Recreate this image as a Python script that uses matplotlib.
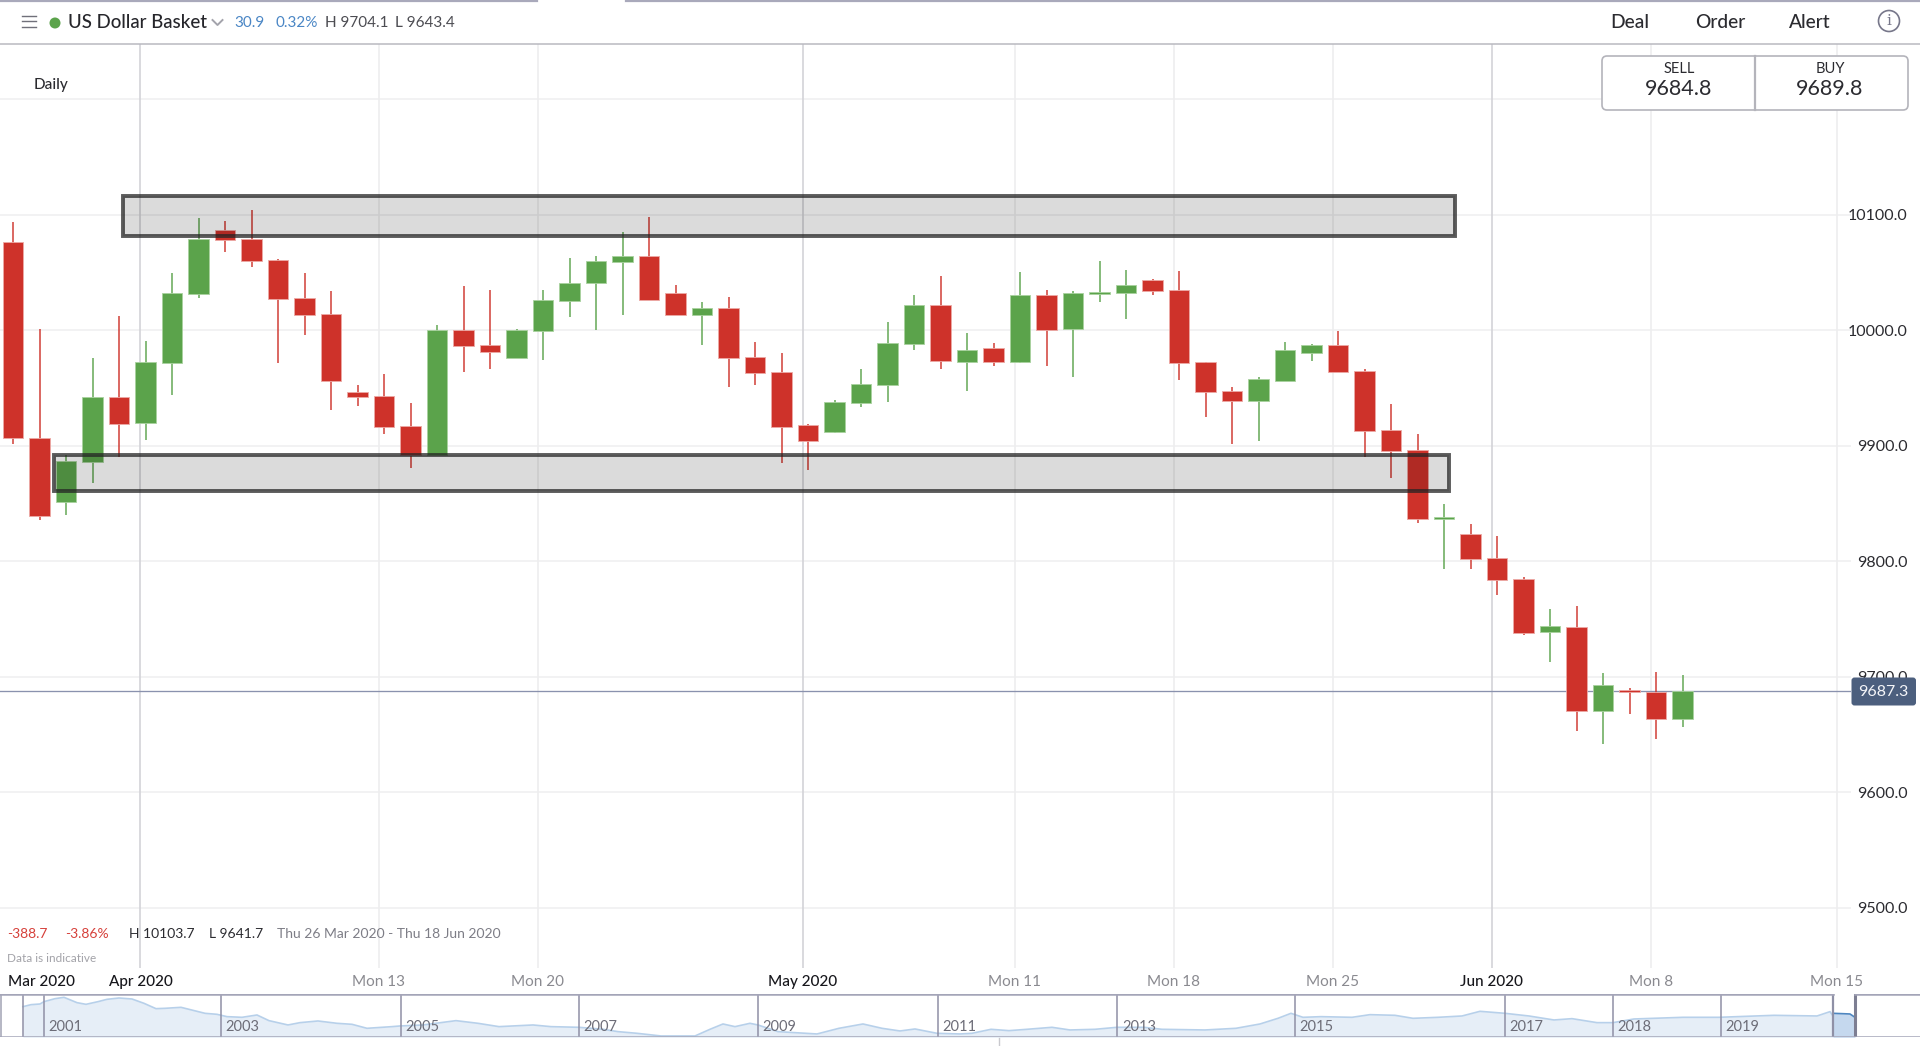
import matplotlib
matplotlib.use('Agg')
import matplotlib.pyplot as plt
from matplotlib.patches import Rectangle, FancyBboxPatch, Circle

plt.rcParams['font.family'] = ['Lato', 'DejaVu Sans']

# daily candles
opens = [10076.2, 9907.1, 9851.5, 9885.6, 9942.4, 9919.5, 9971.7, 10031.7, 10086.5, 10079,
         10060.7, 10028, 10013.9, 9946.2, 9942.7, 9916.9, 9891.6, 9999.8, 9986.9, 9976.3,
         9999.3, 10025.4, 10040.6, 10059.2, 10064.1, 10032.3, 10013.6, 10019.4, 9977.2, 9963.7,
         9917.5, 9911.7, 9937.3, 9952.2, 9988.4, 10022.2, 9972.9, 9984.3, 9972.6, 10030.3,
         10000.7, 10031.1, 10032.3, 10043.7, 10034.9, 9972.3, 9947.3, 9938.4, 9956.4, 9980.7,
         9986.8, 9964.4, 9913.8, 9896.5, 9836.4, 9823.3, 9802.5, 9784.3, 9738.3, 9743.2,
         9670.6, 9688.5, 9687.1, 9663.1]
closes = [9906.6, 9839.4, 9886.5, 9942.4, 9919.2, 9972.3, 10032.6, 10079.3, 10078.2, 10059.5,
          10027.1, 10013.3, 9956.2, 9942.2, 9916, 9891.6, 9999.8, 9986.3, 9981.2, 9999.8,
          10026.2, 10041.2, 10059.8, 10064.1, 10026.5, 10013.6, 10019.1, 9976.3, 9962.8, 9916.6,
          9904, 9937.8, 9953.6, 9989.2, 10022.2, 9973.1, 9982.9, 9972.3, 10030.3, 10000.4,
          10032.3, 10033.1, 10039.4, 10034, 9971.7, 9946.2, 9938.4, 9957.4, 9982.7, 9986.8,
          9963.5, 9912.6, 9895.7, 9836.4, 9838.7, 9802.2, 9783.7, 9737.7, 9743.5, 9670.3,
          9692.9, 9686.5, 9663.1, 9687.4]
highs = [10093.4, 10001, 9891.6, 9975.7, 10012.2, 9990.9, 10049.2, 10097.1, 10094.5, 10103.7,
         10061.5, 10049.8, 10034, 9952.8, 9962.5, 9937.3, 10004.1, 10038, 10035.1, 10000.7,
         10034.9, 10062.7, 10064.4, 10084.8, 10097.7, 10038.9, 10024.2, 10029.1, 9989.8, 9980.6,
         9918.9, 9939.6, 9966.3, 10007.3, 10030.3, 10047.2, 9997.5, 9988.6, 10050.1, 10034.9,
         10034.3, 10060.1, 10051.8, 10044, 10051.5, 9972.6, 9951, 9959.4, 9989.4, 9988.2,
         9998.9, 9966.4, 9935.9, 9910, 9849.1, 9832.3, 9821.6, 9786.6, 9758.2, 9761.4,
         9703.3, 9690.5, 9704.1, 9701.3]
lows = [9901.1, 9835.7, 9839.7, 9868.1, 9889.9, 9905.1, 9944.2, 10028.2, 10068.1, 10054.4,
        9971.7, 9996.1, 9931, 9934.7, 9910.3, 9880.7, 9891.6, 9964, 9966, 9976.3,
        9974, 10011.3, 10000.1, 10013.3, 10026, 10013, 9986.9, 9950.5, 9952.8, 9885.3,
        9879.3, 9911.1, 9933.8, 9938.1, 9983.2, 9966.3, 9947, 9969.1, 9971.4, 9968.8,
        9959.7, 10024.8, 10009.3, 10030.3, 9956.8, 9924.9, 9901.7, 9903.7, 9956.4, 9973.6,
        9963.5, 9889.9, 9872, 9833.5, 9793.2, 9793.5, 9770.4, 9736.3, 9712.8, 9653.2,
        9641.7, 9667.7, 9645.7, 9656.7]

last_price = 9687.3
zones = [(4.16, 54.4, 10081.8, 10115.9), (1.53, 54.17, 9861, 9891.7)]

y_ticks = [9500, 9600, 9700, 9800, 9900, 10000, 10100, 10200]
y_labels = ['9500.0', '9600.0', '9700.0', '9800.0', '9900.0', '10000.0', '10100.0', '']

date_ticks = [1.06, 4.81, 13.81, 19.81, 29.81, 37.81, 43.81, 49.81, 55.81, 61.81, 68.83]
date_labels = ['Mar 2020', 'Apr 2020', 'Mon 13', 'Mon 20', 'May 2020', 'Mon 11', 'Mon 18',
               'Mon 25', 'Jun 2020', 'Mon 8', 'Mon 15']

# navigator strip at the bottom
nav_x = [23, 31, 40, 44, 55, 64, 77, 86, 98, 107, 119, 132, 144, 156, 165, 181, 193, 205, 217, 227,
         242, 257, 269, 288, 300, 318, 337, 352, 367, 377, 392, 400, 423, 456, 478, 499, 533, 551,
         579, 603, 618, 637, 661, 695, 710, 723, 735, 750, 758, 778, 817, 839, 863, 882, 900, 915,
         937, 960, 972, 991, 1009, 1027, 1052, 1070, 1095, 1117, 1144, 1162, 1205, 1236, 1260, 1278,
         1291, 1303, 1321, 1352, 1370, 1395, 1413, 1438, 1462, 1480, 1505, 1529, 1554, 1572, 1597,
         1613, 1634, 1683, 1719, 1774, 1817, 1830, 1833]
nav_level = [92, 98, 100, 107, 116, 120, 104, 99, 107, 114, 118, 115, 102, 86, 87, 90, 81, 72, 69, 62,
             60, 67, 50, 37, 44, 49, 42, 39, 27, 29, 32, 34, 37, 50, 42, 32, 37, 32,
             30, 24, 17, 12, 4, 4, 24, 40, 32, 42, 37, 17, 10, 27, 40, 27, 19, 25,
             12, 10, 12, 24, 20, 24, 30, 22, 24, 30, 30, 24, 22, 27, 40, 57,
             72, 60, 62, 60, 68, 66, 57, 60, 64, 78, 72, 64, 52, 56, 44,
             44, 55, 60, 60, 66, 64, 77, 64]
sel_x = [1833, 1842, 1850, 1855]
sel_level = [72, 71, 70, 60]
nav_years = ['2001', '2003', '2005', '2007', '2009', '2011', '2013', '2015', '2017', '2018', '2019']
nav_year_x = [44, 221, 400.5, 578.7, 758, 937.5, 1117.4, 1295, 1505, 1612.8, 1720.6]

RED = '#ce322a'
GREEN = '#5ba34b'
MONTHS = ('Mar', 'Apr', 'May', 'Jun')

fig = plt.figure(figsize=(19.2, 10.46), dpi=100)
W, H = 1920.0, 1046.0

# main chart, spans px x 0-1851, y 44-968
ax = fig.add_axes([0, 1 - 968 / H, 1851 / W, (968 - 44) / H])
ax.set_xlim(-13 / 26.5, (1851 - 13) / 26.5)
ax.set_ylim(9447.8, 10247.8)
for s in ax.spines.values():
    s.set_visible(False)

for v in y_ticks:
    ax.axhline(v, color='#f1f1f2', lw=1.3, zorder=1)
for pos, name in zip(date_ticks, date_labels):
    if name == 'Mar 2020':
        continue
    col = '#d3d3d8' if name.startswith(MONTHS) else '#eeeeef'
    ax.axvline(pos, color=col, lw=1.2, zorder=1)

ax.axhline(last_price, color='#8a92ae', lw=0.95, zorder=2)

for i in range(len(opens)):
    col = GREEN if closes[i] >= opens[i] else RED
    edge = '#a9d29f' if col == GREEN else '#eca9a5'
    ax.vlines(i, lows[i], highs[i], color=col, lw=1.15, alpha=0.9, zorder=3)
    ax.bar(i, abs(closes[i] - opens[i]), bottom=min(opens[i], closes[i]), width=0.755,
           color=col, edgecolor=edge, linewidth=0.6, zorder=4)

for x0, x1, y0, y1 in zones:
    ax.add_patch(Rectangle((x0, y0), x1 - x0, y1 - y0, facecolor=(0, 0, 0, 0.14),
                           edgecolor=(0.14, 0.14, 0.14, 0.75), linewidth=2.8, zorder=5))

ax.yaxis.tick_right()
ax.set_yticks(y_ticks)
ax.set_yticklabels(y_labels, fontsize=11.5, color='#2b2b30', ha='right')
ax.set_xticks(date_ticks)
ax.set_xticklabels(date_labels, fontsize=11)
for lab in ax.get_xticklabels():
    if lab.get_text().startswith(MONTHS):
        lab.set_color('#17171c')
        lab.set_fontweight('medium')
    else:
        lab.set_color('#8a8a90')
ax.tick_params(axis='both', length=0)
ax.tick_params(axis='y', pad=40.5)
ax.tick_params(axis='x', pad=5)

# navigator
nav = fig.add_axes([0, 1 - 1037.3 / H, 1, (1037.3 - 994) / H])
nav.set_xlim(0, W)
nav.set_ylim(0, 130)
nav.set_xticks([])
nav.set_yticks([])
for s in nav.spines.values():
    s.set_visible(False)
nav.fill_between(nav_x, nav_level, 0, color='#e6eef7', lw=0, zorder=1)
nav.plot(nav_x, nav_level, color='#b7d0ea', lw=1.2, zorder=2)
nav.fill_between(sel_x, sel_level, 0, color='#c5d8ee', lw=0, zorder=1)
nav.plot(sel_x, sel_level, color='#4e86c0', lw=1.2, zorder=2)
for x, year in zip(nav_year_x, nav_years):
    nav.axvline(x, color='#8f90a6', lw=1.1, zorder=3)
    nav.text(x + 4.5, 30, year, fontsize=10.5, color='#6d6d78', va='center', ha='left', zorder=4)
nav.axvline(23, color='#8f90a6', lw=1.1, zorder=3)
nav.axvline(1833, color='#8f90a6', lw=1.6, zorder=3)
nav.axvline(1855, color='#7d7e92', lw=2.2, zorder=3)
nav.axvline(0.5, color='#a9aaba', lw=1.2, zorder=3)
nav.plot([0, 1833], [129, 129], color='#a4a5b8', lw=1.8, zorder=3)
nav.plot([1855, W], [129, 129], color='#a4a5b8', lw=1.8, zorder=3)
nav.plot([0, W], [0.5, 0.5], color='#a4a5b8', lw=1.8, zorder=3)

# page chrome, drawn in pixel coordinates on a see-through overlay
ui = fig.add_axes([0, 0, 1, 1], zorder=10)
ui.set_xlim(0, W)
ui.set_ylim(H, 0)
ui.axis('off')
ui.patch.set_alpha(0)

ui.plot([0, W], [43.5, 43.5], color='#b9b9c0', lw=1.1)
ui.plot([0, 537], [0.8, 0.8], color='#a9a9bb', lw=1.6)
ui.plot([626, W], [0.8, 0.8], color='#a9a9bb', lw=1.6)
for yy in (15.5, 21, 26.5):
    ui.plot([21.5, 36], [yy, yy], color='#70707a', lw=1.0)
ui.add_patch(Circle((55, 23), 5.5, color='#5ba34b', lw=0))
ui.plot([212.5, 217.5, 222.5], [20, 25, 20], color='#a4a4ac', lw=1.4)

ui.text(67.5, 23, 'US Dollar Basket', fontsize=13.4, color='#26262b', va='center', fontweight='medium')
ui.text(234, 23, '30.9', fontsize=11, color='#4a86c5', va='center')
ui.text(275, 23, '0.32%', fontsize=11, color='#4a86c5', va='center')
ui.text(325, 23, 'H 9704.1', fontsize=11, color='#4c4c52', va='center')
ui.text(395, 23, 'L 9643.4', fontsize=11, color='#4c4c52', va='center')
ui.text(33.5, 85.5, 'Daily', fontsize=11, color='#2b2b30', va='center', fontweight='medium')
ui.text(1630, 22.5, 'Deal', fontsize=13.8, color='#2b2b30', va='center', ha='center', fontweight='medium')
ui.text(1720, 22.5, 'Order', fontsize=13.8, color='#2b2b30', va='center', ha='center', fontweight='medium')
ui.text(1810, 22.5, 'Alert', fontsize=13.8, color='#2b2b30', va='center', ha='center', fontweight='medium')
ui.add_patch(Circle((1889, 21), 10.5, fill=False, edgecolor='#77778a', lw=1.2))
ui.text(1889, 21, 'i', fontsize=11, color='#77778a', va='center', ha='center', family='DejaVu Serif')

# sell / buy box
ui.add_patch(FancyBboxPatch((1604, 58), 302, 50, boxstyle='round,pad=2,rounding_size=5',
                            facecolor='white', edgecolor='#b4b4bb', lw=1.2))
ui.plot([1755, 1755], [56, 110], color='#b4b4bb', lw=1.6)
ui.text(1679, 69, 'SELL', fontsize=10.5, color='#2b2b30', va='center', ha='center')
ui.text(1830, 69, 'BUY', fontsize=10.5, color='#2b2b30', va='center', ha='center')
ui.text(1679, 89, '9684.8', fontsize=15.5, color='#2b2b30', va='center', ha='center')
ui.text(1830, 89, '9689.8', fontsize=15.5, color='#2b2b30', va='center', ha='center')

# last price tag
ui.add_patch(FancyBboxPatch((1853.5, 679.5), 60.5, 24, boxstyle='round,pad=2,rounding_size=3',
                            facecolor='#4c5f7e', edgecolor='none'))
ui.text(1883.5, 691.5, '9687.3', fontsize=11.5, color='#f4f5f8', va='center', ha='center')

# range summary
ui.text(7, 934, '-388.7', fontsize=10, color='#d6403a', va='center')
ui.text(65.5, 934, '-3.86%', fontsize=10, color='#d6403a', va='center')
ui.text(128.6, 934, 'H 10103.7', fontsize=10, color='#2b2b30', va='center')
ui.text(209, 934, 'L 9641.7', fontsize=10, color='#2b2b30', va='center')
ui.text(277, 934, 'Thu 26 Mar 2020 - Thu 18 Jun 2020', fontsize=10, color='#7d7d86', va='center')
ui.text(7, 959, 'Data is indicative', fontsize=8.5, color='#a2a2a8', va='center')
ui.plot([998.6, 998.6], [1038, 1046], color='#c9c9ce', lw=1)

fig.savefig('out.png', dpi=100)
